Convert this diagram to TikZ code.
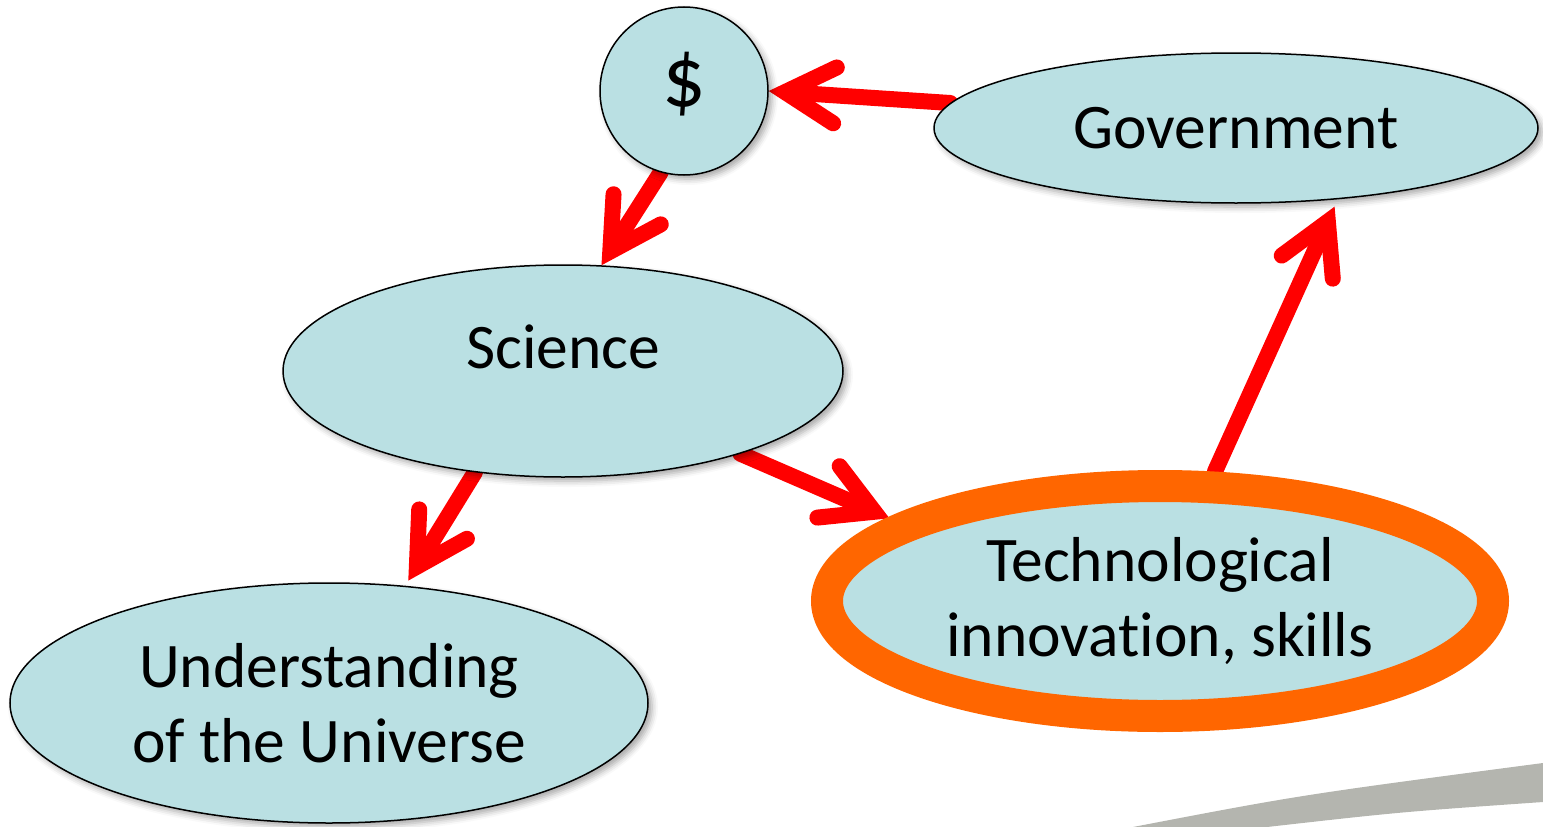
\documentclass[tikz,border=0pt]{standalone}
\usepackage{fontspec}
\setmainfont{Carlito}[Ligatures=NoCommon]
\usetikzlibrary{arrows.meta,shapes.geometric,shadows.blur,backgrounds}
\definecolor{nodefill}{RGB}{186,224,227}
\definecolor{ringorange}{RGB}{255,102,0}
\definecolor{swooshgrey}{RGB}{180,181,175}
\tikzset{
  bubble/.style={draw=black, line width=1.5pt, fill=nodefill, inner sep=0pt,
    blur shadow={shadow xshift=4pt, shadow yshift=-4pt, shadow blur radius=6pt, shadow opacity=35},
    font=\fontsize{63.5}{75}\selectfont, align=center},
  lbl/.style={font=\fontsize{63.5}{75}\selectfont, inner sep=0pt},
  flow/.style={draw=red, line width=16pt, line cap=round,
    -{Straight Barb[length=50pt,width=56pt,line cap=round]},
    preaction={draw=black, opacity=0.22, transform canvas={shift={(3pt,-3pt)}}}},
}
\begin{document}
\begin{tikzpicture}[x=1pt,y=-1pt]
\useasboundingbox (0,0) rectangle (1543,827);
\fill[swooshgrey] (1133,827) .. controls (1300,795) .. (1543,763) -- (1543,802) .. controls (1400,812) .. (1267,827) -- cycle;

\node[bubble, circle, minimum size=168pt] (dollar) at (684,91) {};
\node[lbl, font=\fontsize{86}{90}\selectfont] (dollartext) at (684,84) {\$};
\node[bubble, ellipse, minimum width=604pt, minimum height=150pt] (gov) at (1236,128) {Government};
\node[bubble, ellipse, minimum width=560pt, minimum height=212pt] (sci) at (563,371) {};
\node[lbl] (scitext) at (563,347) {Science};
\node[bubble, ellipse, minimum width=638pt, minimum height=240pt] (und) at (329,703) {Understanding\\of the Universe};
\node[ellipse, draw=ringorange, line width=32pt, fill=nodefill, inner sep=0pt,
  minimum width=666pt, minimum height=230pt, font=\fontsize{63.5}{75}\selectfont, align=center]
  (tech) at (1160,601) {Technological\\innovation, skills};

\begin{pgfonlayer}{background}
\draw[flow] (gov.175) -- (dollar.0);
\draw[flow] (dollar.-106) -- (sci.70);
\draw[flow, shorten >=6pt] (sci.-131) -- (und.57);
\draw[flow] (sci.-25) -- (tech.163);
\draw[flow, shorten >=8pt] (tech.67) -- (gov.-35);
\end{pgfonlayer}
\end{tikzpicture}
\end{document}
